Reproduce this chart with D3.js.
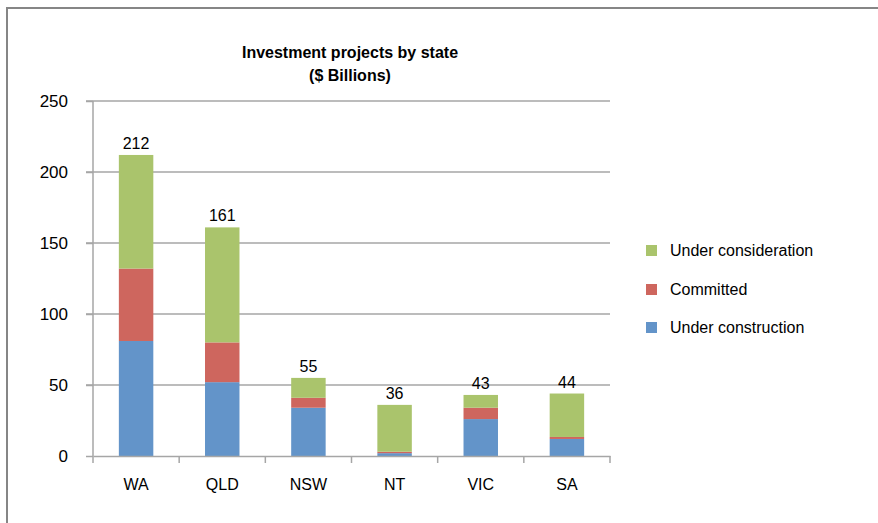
<!DOCTYPE html>
<html>
<head>
<meta charset="utf-8">
<script src="https://cdn.jsdelivr.net/npm/d3@7"></script>
<style>
  body { margin: 0; background: #fff; }
  text { font-family: "Liberation Sans", Arial, sans-serif; }
</style>
</head>
<body>
<div id="chart"></div>
<script>
// chart data
const states = ["WA", "QLD", "NSW", "NT", "VIC", "SA"];
const underConstruction = [81, 52, 34, 2, 26, 12];
const committed = [51, 28, 7, 1, 8, 1.4];
const underConsideration = [80, 81, 14, 33, 9, 30.6];
const totals = [212, 161, 55, 36, 43, 44];
const seriesNames = ["Under construction", "Committed", "Under consideration"];
const yTicks = [0, 50, 100, 150, 200, 250];

const colors = ["#6394C9", "#CE665E", "#AAC46C"];

const W = 878, H = 523;
const margin = {top: 101, right: 268, bottom: 67, left: 93},
    width = W - margin.left - margin.right,
    height = H - margin.top - margin.bottom;

const root = d3.select("#chart")
    .append("svg")
    .attr("width", W)
    .attr("height", H);

// outer chart border
root.append("rect")
    .attr("x", 7)
    .attr("y", 8)
    .attr("width", W + 20)
    .attr("height", H + 20)
    .attr("fill", "none")
    .attr("stroke", "#868686")
    .attr("stroke-width", 2);

// title
root.append("text")
    .attr("x", 350)
    .attr("y", 58)
    .attr("text-anchor", "middle")
    .attr("font-size", "16px")
    .attr("font-weight", "bold")
    .text("Investment projects by state");
root.append("text")
    .attr("x", 350)
    .attr("y", 81)
    .attr("text-anchor", "middle")
    .attr("font-size", "16px")
    .attr("font-weight", "bold")
    .text("($ Billions)");

const svg = root.append("g")
    .attr("transform", `translate(${margin.left},${margin.top})`);

const x = d3.scaleBand().domain(states).range([0, width])
    .paddingInner(0.6).paddingOuter(0.3);
const y = d3.scaleLinear().domain([0, 250]).range([height, 0]);

// gridlines
svg.append("g")
    .selectAll("line")
    .data(yTicks.filter(d => d > 0))
    .enter()
    .append("line")
    .attr("x1", -7)
    .attr("x2", width)
    .attr("y1", d => y(d))
    .attr("y2", d => y(d))
    .attr("stroke", "#A6A6A6")
    .attr("stroke-width", 1.5);

// stacked bars
const rows = states.map((s, i) => ({
    state: s,
    "Under construction": underConstruction[i],
    "Committed": committed[i],
    "Under consideration": underConsideration[i]
}));
const stack = d3.stack().keys(seriesNames)(rows);

svg.selectAll(".layer")
    .data(stack)
    .enter()
    .append("g")
    .attr("fill", (d, i) => colors[i])
    .selectAll("rect")
    .data(d => d)
    .enter()
    .append("rect")
    .attr("x", d => x(d.data.state))
    .attr("y", d => y(d[1]))
    .attr("width", x.bandwidth())
    .attr("height", d => y(d[0]) - y(d[1]));

// total labels
svg.selectAll(".total")
    .data(states)
    .enter()
    .append("text")
    .attr("x", d => x(d) + x.bandwidth() / 2)
    .attr("y", (d, i) => y(totals[i]) - 6)
    .attr("text-anchor", "middle")
    .attr("font-size", "16px")
    .text((d, i) => totals[i]);

// y axis
const yAxis = svg.append("g")
    .call(d3.axisLeft(y).tickValues(yTicks).tickSize(7).tickPadding(18));
yAxis.select(".domain").attr("stroke", "#A6A6A6").attr("stroke-width", 1.5)
    .attr("d", `M0,${height}V0`);
yAxis.selectAll(".tick line").attr("stroke", "#A6A6A6").attr("stroke-width", 1.5);
yAxis.selectAll(".tick text").attr("font-size", "17px").attr("fill", "#000");

// x axis with ticks at category boundaries
const xAxis = svg.append("g")
    .attr("transform", `translate(0,${height})`)
    .call(d3.axisBottom(x).tickSize(0).tickPadding(23));
xAxis.select(".domain").attr("stroke", "#A6A6A6").attr("stroke-width", 1.5);
xAxis.selectAll(".tick text").attr("font-size", "16px").attr("fill", "#000");
xAxis.selectAll(".bound")
    .data(d3.range(states.length + 1))
    .enter()
    .append("line")
    .attr("x1", i => i * x.step())
    .attr("x2", i => i * x.step())
    .attr("y1", 0)
    .attr("y2", 7)
    .attr("stroke", "#A6A6A6")
    .attr("stroke-width", 1.5);

// legend
const legend = root.append("g")
    .attr("transform", "translate(646,0)");
const legendItems = [
    {name: "Under consideration", color: colors[2], y: 250},
    {name: "Committed", color: colors[1], y: 289},
    {name: "Under construction", color: colors[0], y: 327}
];
legendItems.forEach(function(d) {
    legend.append("rect")
        .attr("x", 0)
        .attr("y", d.y - 5)
        .attr("width", 11)
        .attr("height", 11)
        .attr("fill", d.color);
    legend.append("text")
        .attr("x", 24)
        .attr("y", d.y + 6)
        .attr("font-size", "16px")
        .text(d.name);
});
</script>
</body>
</html>
